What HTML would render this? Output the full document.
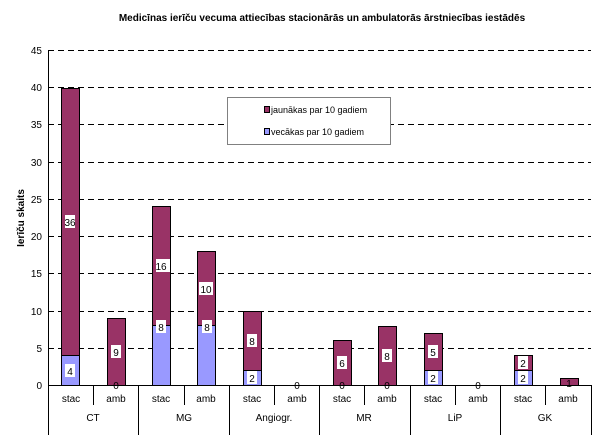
<!DOCTYPE html><html><head><style>body{margin:0;background:#fff}svg{display:block}text{font-family:"Liberation Sans",Arial,sans-serif}</style></head><body>
<svg width="614" height="435" viewBox="0 0 614 435" xmlns="http://www.w3.org/2000/svg">
<text x="322" y="21" font-size="10" font-weight="bold" text-anchor="middle">Medicīnas ierīču vecuma attiecības stacionārās un ambulatorās ārstniecības iestādēs</text>
<g stroke="#000" stroke-dasharray="6,4" stroke-width="1">
<line x1="48" y1="50.5" x2="591" y2="50.5"/><line x1="48" y1="87.5" x2="591" y2="87.5"/><line x1="48" y1="124.5" x2="591" y2="124.5"/><line x1="48" y1="162.5" x2="591" y2="162.5"/><line x1="48" y1="199.5" x2="591" y2="199.5"/><line x1="48" y1="236.5" x2="591" y2="236.5"/><line x1="48" y1="273.5" x2="591" y2="273.5"/><line x1="48" y1="311.5" x2="591" y2="311.5"/><line x1="48" y1="348.5" x2="591" y2="348.5"/>
</g>
<g font-size="10" text-anchor="end">
<text x="42" y="54">45</text><text x="42" y="91">40</text><text x="42" y="128">35</text><text x="42" y="166">30</text><text x="42" y="203">25</text><text x="42" y="240">20</text><text x="42" y="277">15</text><text x="42" y="315">10</text><text x="42" y="352">5</text><text x="42" y="389">0</text>
</g>
<text transform="translate(24,218) rotate(-90)" font-size="10" font-weight="bold" text-anchor="middle">Ierīču skaits</text>
<g stroke="#000" stroke-width="1">
<rect x="61.5" y="88.5" width="18" height="268" fill="#993366"/><rect x="61.5" y="355.5" width="18" height="30" fill="#9999ff"/>
<rect x="107.5" y="318.5" width="18" height="67" fill="#993366"/>
<rect x="152.5" y="206.5" width="18" height="119" fill="#993366"/><rect x="152.5" y="325.5" width="18" height="60" fill="#9999ff"/>
<rect x="197.5" y="251.5" width="18" height="74" fill="#993366"/><rect x="197.5" y="325.5" width="18" height="60" fill="#9999ff"/>
<rect x="243.5" y="311.5" width="18" height="59" fill="#993366"/><rect x="243.5" y="370.5" width="18" height="15" fill="#9999ff"/>
<rect x="333.5" y="340.5" width="18" height="45" fill="#993366"/>
<rect x="378.5" y="326.5" width="18" height="59" fill="#993366"/>
<rect x="424.5" y="333.5" width="18" height="37" fill="#993366"/><rect x="424.5" y="370.5" width="18" height="15" fill="#9999ff"/>
<rect x="514.5" y="355.5" width="18" height="15" fill="#993366"/><rect x="514.5" y="370.5" width="18" height="15" fill="#9999ff"/>
<rect x="560.5" y="378.5" width="18" height="7" fill="#993366"/>
</g>
<g font-size="10" text-anchor="middle">
<g fill="#fff"><rect x="65" y="215" width="10" height="13"/><rect x="65" y="364" width="10" height="13"/><rect x="111" y="345" width="10" height="13"/><rect x="156" y="259" width="14" height="13"/><rect x="156" y="320" width="10" height="13"/><rect x="199" y="282" width="14" height="13"/><rect x="202" y="320" width="10" height="13"/><rect x="247" y="334" width="10" height="13"/><rect x="247" y="371" width="10" height="13"/><rect x="337" y="356" width="10" height="13"/><rect x="382" y="349" width="10" height="13"/><rect x="428" y="345" width="10" height="13"/><rect x="428" y="371" width="10" height="13"/><rect x="518" y="356" width="10" height="13"/><rect x="518" y="371" width="10" height="13"/></g>
<text x="70" y="226">36</text><text x="70" y="375">4</text><text x="116" y="356">9</text><text x="116" y="389">0</text>
<text x="161" y="270">16</text><text x="161" y="331">8</text><text x="206" y="293">10</text><text x="207" y="331">8</text>
<text x="252" y="345">8</text><text x="252" y="382">2</text><text x="297" y="389">0</text>
<text x="342" y="367">6</text><text x="342" y="389">0</text><text x="387" y="360">8</text><text x="387" y="389">0</text>
<text x="433" y="356">5</text><text x="433" y="382">2</text><text x="478" y="389">0</text>
<text x="523" y="367">2</text><text x="523" y="382">2</text><text x="569" y="387">1</text>
</g>
<g stroke="#000" stroke-width="1">
<line x1="48.5" y1="50" x2="48.5" y2="435"/><line x1="48" y1="385.5" x2="591" y2="385.5"/>
<line x1="93.5" y1="385" x2="93.5" y2="405"/><line x1="184.5" y1="385" x2="184.5" y2="405"/><line x1="274.5" y1="385" x2="274.5" y2="405"/><line x1="364.5" y1="385" x2="364.5" y2="405"/><line x1="455.5" y1="385" x2="455.5" y2="405"/><line x1="545.5" y1="385" x2="545.5" y2="405"/>
<line x1="138.5" y1="385" x2="138.5" y2="435"/><line x1="229.5" y1="385" x2="229.5" y2="435"/><line x1="319.5" y1="385" x2="319.5" y2="435"/><line x1="410.5" y1="385" x2="410.5" y2="435"/><line x1="500.5" y1="385" x2="500.5" y2="435"/><line x1="591.5" y1="385" x2="591.5" y2="435"/>
</g>
<g font-size="10" text-anchor="middle">
<text x="71" y="402">stac</text><text x="116" y="402">amb</text><text x="161" y="402">stac</text><text x="206" y="402">amb</text><text x="252" y="402">stac</text><text x="297" y="402">amb</text><text x="342" y="402">stac</text><text x="387" y="402">amb</text><text x="433" y="402">stac</text><text x="478" y="402">amb</text><text x="523" y="402">stac</text><text x="568" y="402">amb</text>
<text x="93" y="421">CT</text><text x="184" y="421">MG</text><text x="274" y="421">Angiogr.</text><text x="364" y="421">MR</text><text x="455" y="421">LiP</text><text x="545" y="421">GK</text>
</g>
<rect x="227.5" y="97.5" width="163" height="47" fill="#fff" stroke="#808080"/>
<rect x="264.5" y="106.5" width="5" height="6" fill="#993366" stroke="#000"/>
<rect x="264.5" y="128.5" width="5" height="6" fill="#9999ff" stroke="#000"/>
<g font-size="9"><text x="271" y="113">jaunākas par 10 gadiem</text><text x="271" y="135">vecākas par 10 gadiem</text></g>
</svg></body></html>
